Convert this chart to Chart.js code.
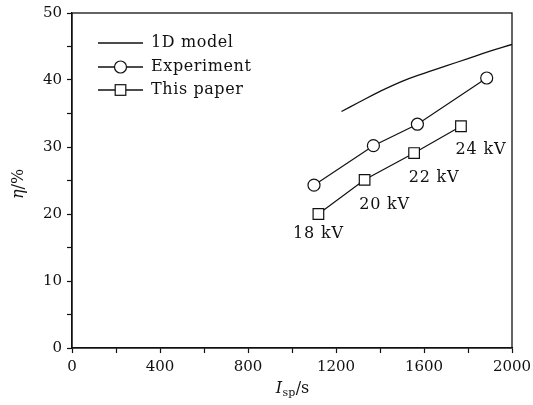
<!DOCTYPE html>
<html><head><meta charset="utf-8">
<script src="https://cdn.jsdelivr.net/npm/chart.js@4/dist/chart.umd.min.js"></script>
<style>html,body{margin:0;padding:0;background:#fff}#wrap{width:533px;height:405px}</style>
</head><body><div id="wrap"><canvas id="c" width="533" height="405"></canvas></div>
<script>
const modelIsp = [1225, 1300, 1400, 1500, 1600, 1700, 1800, 1900, 2000];
const modelEta = [35.3, 36.6, 38.3, 39.8, 41.0, 42.1, 43.2, 44.3, 45.3];
const expIsp = [1100, 1370, 1570, 1885];
const expEta = [24.3, 30.2, 33.4, 40.3];
const paperIsp = [1120, 1330, 1555, 1768];
const paperEta = [20.0, 25.1, 29.1, 33.1];
const voltageLabels = ['18 kV', '20 kV', '22 kV', '24 kV'];
const seriesNames = ['1D model', 'Experiment', 'This paper'];
const xTicks = [0, 400, 800, 1200, 1600, 2000];
const yTicks = [0, 10, 20, 30, 40, 50];

const FONT = '"DejaVu Serif", "Liberation Serif", serif';
const INK = '#111';

function pts(xs, ys) { return xs.map((x, i) => ({x: x, y: ys[i]})); }

const labelOffsets = [[0, 20], [20, 25], [20, 25], [20, 23.5]];

const decor = {
  id: 'decor',
  afterDraw(chart) {
    const ctx = chart.ctx;
    const a = chart.chartArea;
    const xs = chart.scales.x, ys = chart.scales.y;
    ctx.save();
    // frame
    ctx.strokeStyle = INK; ctx.lineWidth = 1.3;
    ctx.strokeRect(a.left, a.top, a.right - a.left, a.bottom - a.top);
    // voltage labels
    ctx.fillStyle = INK;
    ctx.font = '16px ' + FONT;
    ctx.letterSpacing = '0.8px';
    ctx.textAlign = 'center'; ctx.textBaseline = 'middle';
    voltageLabels.forEach((t, i) => {
      const px = xs.getPixelForValue(paperIsp[i]);
      const py = ys.getPixelForValue(paperEta[i]);
      ctx.fillText(t, px + labelOffsets[i][0], py + labelOffsets[i][1]);
    });
    // legend
    const rows = [43, 67, 90];
    ctx.textAlign = 'left';
    ctx.letterSpacing = '0.6px';
    chart.data.datasets.forEach((ds, i) => {
      const y = rows[i];
      ctx.strokeStyle = INK; ctx.lineWidth = 1.3;
      ctx.beginPath(); ctx.moveTo(98, y); ctx.lineTo(143, y); ctx.stroke();
      if (ds.pointStyle === 'circle') {
        ctx.beginPath(); ctx.arc(120.5, y, 6, 0, Math.PI * 2);
        ctx.fillStyle = '#fff'; ctx.fill(); ctx.lineWidth = 1.2; ctx.stroke();
      } else if (ds.pointStyle === 'rect') {
        ctx.fillStyle = '#fff'; ctx.fillRect(115.2, y - 5.3, 10.6, 10.6);
        ctx.lineWidth = 1.2; ctx.strokeRect(115.2, y - 5.3, 10.6, 10.6);
      }
      ctx.fillStyle = INK;
      ctx.fillText(ds.label, 151, y);
    });
    ctx.letterSpacing = '0px';
    // y title
    ctx.save();
    ctx.translate(19, 184);
    ctx.rotate(-Math.PI / 2);
    ctx.font = 'italic 16px ' + FONT;
    const w1 = ctx.measureText('η').width;
    ctx.font = '16px ' + FONT;
    const w2 = ctx.measureText('/%').width;
    let sx = -(w1 + w2) / 2;
    ctx.textAlign = 'left'; ctx.textBaseline = 'middle';
    ctx.font = 'italic 16px ' + FONT; ctx.fillText('η', sx, 0);
    ctx.font = '16px ' + FONT; ctx.fillText('/%', sx + w1, 0);
    ctx.restore();
    // x title
    ctx.textAlign = 'left'; ctx.textBaseline = 'alphabetic';
    ctx.font = 'italic 16px ' + FONT;
    const a1 = ctx.measureText('I').width;
    ctx.font = '11px ' + FONT;
    const a2 = ctx.measureText('sp').width;
    ctx.font = '16px ' + FONT;
    const a3 = ctx.measureText('/s').width;
    let bx = (a.left + a.right) / 2 - (a1 + a2 + a3) / 2;
    const by = 393;
    ctx.font = 'italic 16px ' + FONT; ctx.fillText('I', bx, by);
    ctx.font = '11px ' + FONT; ctx.fillText('sp', bx + a1 + 0.5, by + 3);
    ctx.font = '16px ' + FONT; ctx.fillText('/s', bx + a1 + a2 + 1, by);
    ctx.restore();
  }
};

new Chart(document.getElementById('c'), {
  type: 'scatter',
  data: {
    datasets: [
      { label: seriesNames[0], data: pts(modelIsp, modelEta), showLine: true, borderColor: INK, borderWidth: 1.3,
        pointRadius: 0, tension: 0.4, pointStyle: 'line' },
      { label: seriesNames[1], data: pts(expIsp, expEta), showLine: true, borderColor: INK, borderWidth: 1.2,
        pointStyle: 'circle', pointRadius: 6, pointBackgroundColor: '#fff', pointBorderColor: INK, pointBorderWidth: 1.2 },
      { label: seriesNames[2], data: pts(paperIsp, paperEta), showLine: true, borderColor: INK, borderWidth: 1.2,
        pointStyle: 'rect', pointRadius: 7.5, pointBackgroundColor: '#fff', pointBorderColor: INK, pointBorderWidth: 1.2 }
    ]
  },
  options: {
    responsive: false,
    animation: false,
    devicePixelRatio: 1,
    layout: { padding: { top: 13, right: 21, left: 0, bottom: 0 } },
    plugins: { legend: { display: false }, tooltip: { enabled: false } },
    scales: {
      x: {
        type: 'linear', min: 0, max: 2000,
        afterFit(s) { s.height = 57; s.paddingLeft = 0; s.paddingRight = 0; },
        ticks: { stepSize: 200, autoSkip: false, maxRotation: 0, color: INK, padding: 5,
                 font: { family: FONT, size: 15 },
                 callback: v => xTicks.includes(v) ? String(v) : '' },
        grid: { drawOnChartArea: false, drawTicks: true, tickLength: 5, tickColor: INK, tickWidth: 1.2 },
        border: { color: INK, width: 1.3 }
      },
      y: {
        type: 'linear', min: 0, max: 50,
        afterFit(s) { s.width = 72; s.paddingTop = 0; s.paddingBottom = 0; },
        ticks: { stepSize: 5, autoSkip: false, color: INK, padding: 5,
                 font: { family: FONT, size: 15 },
                 callback: v => yTicks.includes(v) ? String(v) : '' },
        grid: { drawOnChartArea: false, drawTicks: true, tickLength: 5, tickColor: INK, tickWidth: 1.2 },
        border: { color: INK, width: 1.3 }
      }
    }
  },
  plugins: [decor]
});
</script>
</body></html>
